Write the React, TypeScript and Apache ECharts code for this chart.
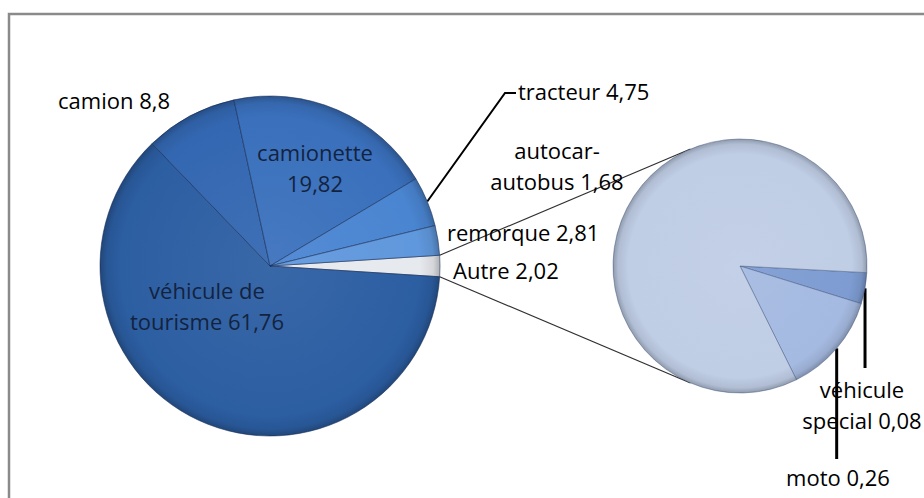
import React, { useEffect, useRef } from 'react';
import * as echarts from 'echarts';

// ---- data ----
const mainCategories = ['Autre', 'véhicule de\ntourisme', 'camion', 'camionette', 'tracteur', 'remorque'];
const mainValues = [2.02, 61.76, 8.8, 19.82, 4.75, 2.81];
const subCategories = ['véhicule\nspecial', 'moto', 'autocar-\nautobus'];
const subValues = [0.08, 0.26, 1.68];
// categories whose value is written on a new line
const valueOnNewLine = ['camionette'];

// ---- styles / layout ----
const W = 924;
const H = 498;
const MAIN = { cx: 270, cy: 266, r: 170 };
const SUB = { cx: 740, cy: 266, r: 127 };
const SUB_START = -3;
const FONT = '"Open Sans", "Noto Sans", sans-serif';

const mainColors = ['#E6E9ED', '#2C5EA2', '#3367B1', '#3A70BC', '#4A85D1', '#6098DD'];
const subColors = ['#7E9CD2', '#A5BAE1', '#BFCDE5'];
const mainTextColors = ['#000', '#13233F', '#000', '#13233F', '#000', '#000'];

type LP = { x: number; y: number; align: string; lineEndY?: number; elbow?: number[]; lineEndX?: number };
const mainLabelPos: Record<string, LP> = {
  Autre: { x: 453, y: 270, align: 'left' },
  'véhicule de\ntourisme': { x: 207, y: 305, align: 'center' },
  camion: { x: 58, y: 100, align: 'left' },
  camionette: { x: 315, y: 167, align: 'center' },
  tracteur: { x: 518, y: 91, align: 'left', elbow: [505, 93], lineEndX: 516 },
  remorque: { x: 447, y: 232, align: 'left' },
};
const subLabelPos: Record<string, LP> = {
  'véhicule\nspecial': { x: 862, y: 404, align: 'center', lineEndY: 368 },
  moto: { x: 838, y: 477, align: 'center', lineEndY: 459 },
  'autocar-\nautobus': { x: 557, y: 165, align: 'center' },
};

function shade(hex: string, amt: number): string {
  const n = parseInt(hex.slice(1), 16);
  let r = (n >> 16) & 255, g = (n >> 8) & 255, b = n & 255;
  const f = (c: number) => Math.max(0, Math.min(255, Math.round(amt >= 0 ? c + (255 - c) * amt : c * (1 + amt))));
  r = f(r); g = f(g); b = f(b);
  return '#' + ((1 << 24) + (r << 16) + (g << 8) + b).toString(16).slice(1);
}

function fmt(v: number): string {
  return String(v).replace('.', ',');
}

function grad(c: { cx: number; cy: number; r: number }, base: string) {
  return new echarts.graphic.RadialGradient(c.cx, c.cy, c.r, [
    { offset: 0, color: shade(base, 0.06) },
    { offset: 0.88, color: base },
    { offset: 0.96, color: shade(base, -0.08) },
    { offset: 1, color: shade(base, -0.25) },
  ], true);
}

function tangentPoints(px: number, py: number) {
  const dx = px - SUB.cx, dy = py - SUB.cy;
  const d = Math.sqrt(dx * dx + dy * dy);
  const base = Math.atan2(dy, dx);
  const a = Math.acos(SUB.r / d);
  const t1 = [SUB.cx + SUB.r * Math.cos(base + a), SUB.cy + SUB.r * Math.sin(base + a)];
  const t2 = [SUB.cx + SUB.r * Math.cos(base - a), SUB.cy + SUB.r * Math.sin(base - a)];
  return [t1, t2];
}

export default function App() {
  const ref = useRef<HTMLDivElement>(null);
  useEffect(() => {
    if (!ref.current) return;
    const chart = echarts.init(ref.current, null, { renderer: 'svg' });

    const sumMain = mainValues.reduce((a, b) => a + b, 0);
    const autreHalfDeg = (mainValues[0] / sumMain) * 180;
    const aRad = (autreHalfDeg * Math.PI) / 180;
    const pTop = [MAIN.cx + MAIN.r * Math.cos(aRad), MAIN.cy - MAIN.r * Math.sin(aRad)];
    const pBot = [MAIN.cx + MAIN.r * Math.cos(aRad), MAIN.cy + MAIN.r * Math.sin(aRad)];
    const tt = tangentPoints(pTop[0], pTop[1]);
    const tb = tangentPoints(pBot[0], pBot[1]);
    const topEnd = tt[0][1] < tt[1][1] ? tt[0] : tt[1];
    const botEnd = tb[0][1] > tb[1][1] ? tb[0] : tb[1];

    const labelText = (name: string, v: number) =>
      name + (valueOnNewLine.includes(name) ? '\n' : ' ') + fmt(v);

    const mainData = mainCategories.map((name, i) => ({
      name,
      value: mainValues[i],
      itemStyle: { color: grad(MAIN, mainColors[i]) },
      label: { color: mainTextColors[i] },
      labelLine: { show: !!mainLabelPos[name].elbow },
    }));
    const subData = subCategories.map((name, i) => ({
      name,
      value: subValues[i],
      itemStyle: { color: grad(SUB, subColors[i]) },
      labelLine: { show: subLabelPos[name].lineEndY !== undefined },
    }));

    const commonLabel = {
      show: true,
      position: 'outside',
      fontFamily: FONT,
      fontSize: 22,
      lineHeight: 31,
      color: '#000',
      align: 'center',
      formatter: (p: any) => labelText(p.name, p.value),
    };

    chart.setOption({
      animation: false,
      backgroundColor: '#fff',
      graphic: [
        {
          type: 'rect',
          shape: { x: 9, y: 14, width: W + 50, height: H + 50 },
          style: { fill: 'none', stroke: '#8a8a8a', lineWidth: 2.5 },
          z: 0,
        },
        {
          type: 'line',
          shape: { x1: pTop[0], y1: pTop[1], x2: topEnd[0], y2: topEnd[1] },
          style: { stroke: '#303030', lineWidth: 1.2 },
          z: 1,
        },
        {
          type: 'line',
          shape: { x1: pBot[0], y1: pBot[1], x2: botEnd[0], y2: botEnd[1] },
          style: { stroke: '#303030', lineWidth: 1.2 },
          z: 1,
        },
      ],
      series: [
        {
          type: 'pie',
          center: [MAIN.cx, MAIN.cy],
          radius: [0, MAIN.r],
          startAngle: autreHalfDeg,
          clockwise: true,
          avoidLabelOverlap: false,
          silent: true,
          itemStyle: { borderColor: 'rgba(20,40,80,0.55)', borderWidth: 1 },
          label: commonLabel,
          labelLine: { show: true, lineStyle: { color: '#000', width: 2 } },
          labelLayout: (p: any) => {
            const pos = mainLabelPos[mainCategories[p.dataIndex]];
            const out: any = { x: pos.x, y: pos.y, align: pos.align, verticalAlign: 'middle' };
            if (pos.elbow && p.labelLinePoints) {
              const p0 = p.labelLinePoints[0];
              out.labelLinePoints = [p0, pos.elbow, [pos.lineEndX, pos.elbow[1]]];
            }
            return out;
          },
          data: mainData,
        },
        {
          type: 'pie',
          center: [SUB.cx, SUB.cy],
          radius: [0, SUB.r],
          startAngle: SUB_START,
          clockwise: true,
          avoidLabelOverlap: false,
          silent: true,
          itemStyle: { borderColor: 'rgba(60,80,120,0.45)', borderWidth: 1 },
          label: commonLabel,
          labelLine: { show: true, lineStyle: { color: '#000', width: 3 } },
          labelLayout: (p: any) => {
            const pos = subLabelPos[subCategories[p.dataIndex]];
            const out: any = { x: pos.x, y: pos.y, align: pos.align, verticalAlign: 'middle' };
            if (pos.lineEndY !== undefined && p.labelLinePoints) {
              const p0 = p.labelLinePoints[0];
              out.labelLinePoints = [p0, [p0[0], (p0[1] + pos.lineEndY) / 2], [p0[0], pos.lineEndY]];
            }
            return out;
          },
          data: subData,
        },
      ],
    });
    return () => chart.dispose();
  }, []);
  return <div ref={ref} style={{ position: 'absolute', left: 0, top: 0, width: W, height: H }} />;
}
